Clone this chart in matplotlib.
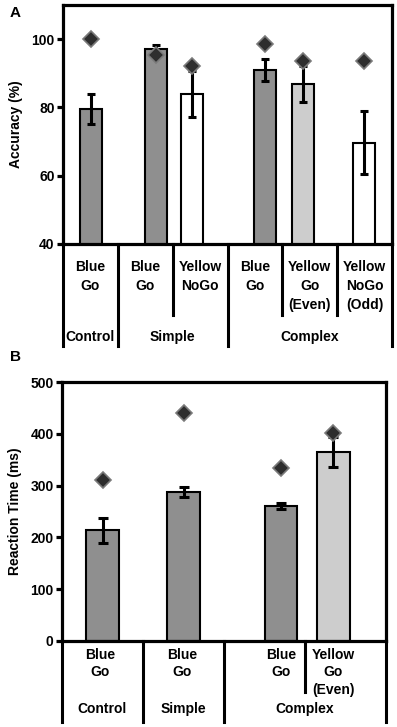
import matplotlib.pyplot as plt
import matplotlib.transforms as mtransforms

plt.rcParams['font.family'] = ['Liberation Sans', 'DejaVu Sans']
plt.rcParams['font.weight'] = 'bold'

# panel A - accuracy
acc_labels = ["Blue\nGo", "Blue\nGo", "Yellow\nNoGo", "Blue\nGo", "Yellow\nGo\n(Even)", "Yellow\nNoGo\n(Odd)"]
acc_mean = [79.5, 97.0, 84.0, 91.0, 86.8, 69.7]
acc_err = [4.5, 1.3, 6.8, 3.2, 5.3, 9.2]
acc_ideal = [100, 95.5, 92, 98.5, 93.6, 93.6]
acc_groups = ["Control", "Simple", "Complex"]

# panel B - reaction time
rt_labels = ["Blue\nGo", "Blue\nGo", "Blue\nGo", "Yellow\nGo\n(Even)"]
rt_mean = [214, 288, 260, 365]
rt_err = [24, 10, 6, 29]
rt_ideal = [311, 440, 334, 402]
rt_groups = ["Control", "Simple", "Complex"]

DARK = '#8f8f8f'
LIGHT = '#cdcdcd'
WHITE = '#ffffff'
acc_colors = [DARK, DARK, WHITE, DARK, LIGHT, WHITE]
rt_colors = [DARK, DARK, DARK, LIGHT]

W, H = 397, 727
fig = plt.figure(figsize=(W / 100, H / 100), dpi=100)


def fy(px):
    return 1 - px / H


def panel(rect, pos, mean, err, ideal, colors, width, capsize, ylim, yticks, ylabel,
          sub_x, sub_lab, short_div, long_div, grp_x, grp_lab, ypx, lsp):
    ax = fig.add_axes(rect)
    ax.bar(pos, mean, width=width, color=colors, edgecolor='black', linewidth=1.5, zorder=2)
    ax.errorbar(pos, mean, yerr=err, fmt='none', ecolor='black', elinewidth=2.2,
                capsize=capsize, capthick=2.2, zorder=3)
    ax.plot(pos, ideal, 'D', ms=8, mfc='#2e2e2e', mec='#7a7a7a', mew=1.2, zorder=4)
    ax.set_ylim(*ylim)
    ax.set_yticks(yticks)
    ax.set_xlim(0, len(sub_lab))
    ax.set_xticks([])
    for s in ax.spines.values():
        s.set_linewidth(2.3)
    ax.tick_params(axis='y', direction='out', length=4, width=2.3, labelsize=10, pad=2)
    ax.set_ylabel(ylabel, fontsize=10, fontweight='bold', labelpad=6)
    tr = mtransforms.blended_transform_factory(ax.transData, fig.transFigure)
    sub_y, short_bot, grp_y, long_bot = ypx
    for x, t in zip(sub_x, sub_lab):
        ax.text(x, fy(sub_y), t, transform=tr, ha='center', va='top',
                fontsize=10, fontweight='bold', linespacing=lsp)
    for x, t in zip(grp_x, grp_lab):
        ax.text(x, fy(grp_y), t, transform=tr, ha='center', va='center',
                fontsize=10, fontweight='bold')
    ytop = ax.get_position().y0
    for x in short_div:
        ax.plot([x, x], [ytop, fy(short_bot)], transform=tr, color='black', lw=2.2, clip_on=False)
    for x in long_div:
        ax.plot([x, x], [ytop, fy(long_bot)], transform=tr, color='black', lw=2.2, clip_on=False)
    return ax


# layout of panel A: six category slots
axA = panel([63 / W, fy(244), 329 / W, 239 / H], [0.51, 1.70, 2.35, 3.69, 4.38, 5.49],
            acc_mean, acc_err, acc_ideal, acc_colors, 0.4, 3, (40, 110), [40, 60, 80, 100],
            'Accuracy (%)', [0.5, 1.5, 2.5, 3.5, 4.5, 5.5], acc_labels,
            [2, 4, 5], [0, 1, 3, 6], [0.5, 2.0, 4.5], acc_groups, (260, 315, 337, 346), 1.45)

# layout of panel B: four category slots
axB = panel([62 / W, fy(641), 324 / W, 259 / H], [0.5, 1.5, 2.7, 3.35],
            rt_mean, rt_err, rt_ideal, rt_colors, 0.4, 3.5, (0, 500), [0, 100, 200, 300, 400, 500],
            'Reaction Time (ms)', [0.47, 1.48, 2.7, 3.35], rt_labels,
            [3], [0, 1, 2, 4], [0.5, 1.5, 3.0], rt_groups, (648, 692, 709, 722), 1.3)

fig.text(10 / W, fy(13), 'A', fontsize=11, fontweight='bold', va='center')
fig.text(10 / W, fy(357), 'B', fontsize=11, fontweight='bold', va='center')

fig.savefig('out.png', dpi=100)
